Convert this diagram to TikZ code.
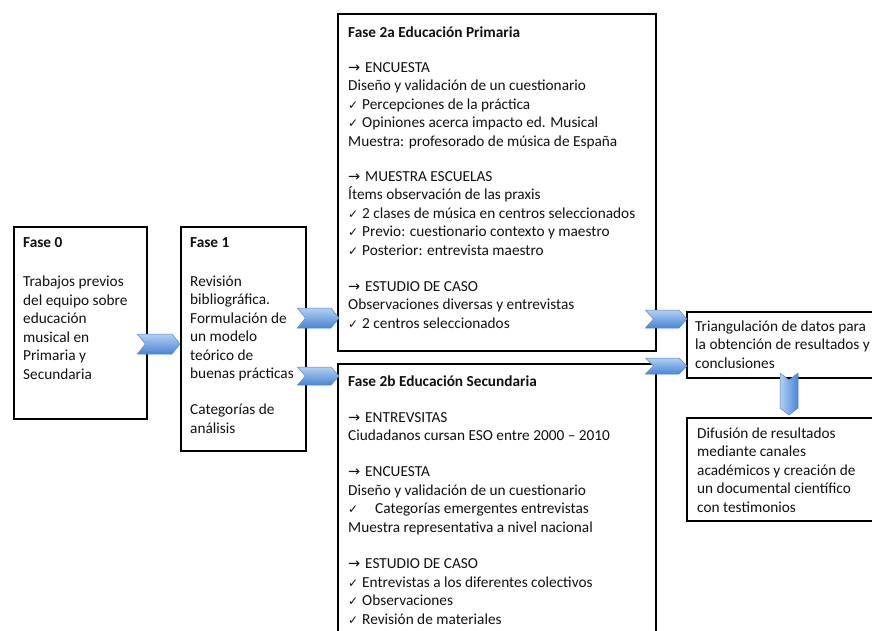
\documentclass[tikz,border=0pt]{standalone}
\usepackage{fontspec}
\setmainfont{Carlito}
\newfontfamily\symfont{DejaVu Sans}
\usetikzlibrary{calc}
\definecolor{arrtop}{RGB}{176,208,246}
\definecolor{arrbot}{RGB}{74,134,212}
\definecolor{arredge}{RGB}{88,134,198}
\definecolor{txtcol}{RGB}{20,16,14}
\newcommand\tick{\makebox[14pt][l]{\fontsize{12}{12}\selectfont\symfont ✓}}
\newcommand\ticklong{\makebox[27pt][l]{\fontsize{12}{12}\selectfont\symfont ✓}}
\newcommand\arr{\makebox[17pt][l]{\fontsize{14.5}{14.5}\selectfont\symfont →}}
\newcommand\hchev[3]{%
  \path[chevh] let \p1=(#1), \p2=(#2) in
   (\x1,\y1+#3) -- (\x2-8pt,\y1+#3) -- (\x2,\y1) -- (\x2-8pt,\y1-#3)
   -- (\x1,\y1-#3) -- (\x1+8pt,\y1) -- cycle;}
\newcommand\vchev[3]{%
  \path[chevv] let \p1=(#1), \p2=(#2) in
   (\x1-#3,\y1) -- (\x1,\y1-7pt) -- (\x1+#3,\y1) -- (\x1+#3,\y2+7pt)
   -- (\x1,\y2) -- (\x1-#3,\y2+7pt) -- cycle;}
\tikzset{
  box/.style={draw=black, line width=2.4pt, anchor=north west, inner sep=0pt, fill=white},
  txt/.style={anchor=north west, inner sep=0pt, align=left, text=txtcol,
    font=\fontsize{15.3}{18.5}\selectfont},
  chevh/.style={top color=arrtop, bottom color=arrbot, draw=arredge, line width=0.5pt},
  chevv/.style={left color=arrtop, right color=arrbot, draw=arredge, line width=0.5pt},
}
\begin{document}
\begin{tikzpicture}[x=1pt,y=-1pt]
\useasboundingbox (0,0) rectangle (872,630);
\fill[white] (0,0) rectangle (872,630);
\clip (0,0) rectangle (872,630);
% boxes
\node[box, minimum width=133pt, minimum height=192pt] (f0) at (13,226) {};
\node[box, minimum width=125pt, minimum height=224pt] (f1) at (180,226) {};
\node[box, minimum width=318pt, minimum height=337pt] (f2a) at (337,13) {};
\node[box, minimum width=318pt, minimum height=340pt] (f2b) at (337,363) {};
\node[box, minimum width=220pt, minimum height=66pt] (tri) at (686,311) {};
\node[box, minimum width=220pt, minimum height=103pt] (dif) at (686,417) {};
% texts
\node[txt] (t0) at (23,234) {\strut\textbf{Fase 0}\\[21pt]
Trabajos previos\\del equipo sobre\\educación\\musical en\\Primaria y\\Secundaria};
\node[txt] (t1) at (190,234) {\strut\textbf{Fase 1}\\[20.5pt]
Revisión\\bibliográfica.\\Formulación de\\un modelo\\teórico de\\buenas prácticas\\[17.5pt]
Categorías de\\análisis};
\node[txt] (t2a) at (348,24) {\strut\textbf{Fase 2a Educación Primaria}\\[16.5pt]
\arr ENCUESTA\\
Diseño y validación de un cuestionario\\
\tick Percepciones de la práctica\\
\tick Opiniones acerca impacto ed. Musical\\
Muestra: profesorado de música de España\\[16.5pt]
\arr MUESTRA ESCUELAS\\
Ítems observación de las praxis\\
\tick 2 clases de música en centros seleccionados\\
\tick Previo: cuestionario contexto y maestro\\
\tick Posterior: entrevista maestro\\[17.5pt]
\arr ESTUDIO DE CASO\\
Observaciones diversas y entrevistas\\
\tick 2 centros seleccionados};
\node[txt] (t2b) at (348,373) {\strut\textbf{Fase 2b Educación Secundaria}\\[17.5pt]
\arr ENTREVSITAS\\
Ciudadanos cursan ESO entre 2000 – 2010\\[17.5pt]
\arr ENCUESTA\\
Diseño y validación de un cuestionario\\
\ticklong Categorías emergentes entrevistas\\
Muestra representativa a nivel nacional\\[18pt]
\arr ESTUDIO DE CASO\\
\tick Entrevistas a los diferentes colectivos\\
\tick Observaciones\\
\tick Revisión de materiales};
\node[txt] (ttri) at (695,318) {\strut Triangulación de datos para\\la obtención de resultados y\\conclusiones};
\node[txt] (tdif) at (697,425) {\strut Difusión de resultados\\mediante canales\\académicos y creación de\\un documental científico\\con testimonios};
% connector end points
\coordinate (a1s) at (f0.east |- 0,344);  \coordinate (a1e) at (f1.west |- 0,344);
\coordinate (a2s) at (f1.east |- 0,318);  \coordinate (a2e) at (f2a.west |- 0,318);
\coordinate (a3s) at (f1.east |- 0,376);  \coordinate (a3e) at (f2b.west |- 0,376);
\coordinate (a4s) at (f2a.east |- 0,319); \coordinate (a4e) at (tri.west |- 0,319);
\coordinate (a5s) at (f2b.east |- 0,366); \coordinate (a5e) at (tri.west |- 0,366);
\coordinate (a6s) at (789,373); \coordinate (a6e) at (789,415);
\hchev{$(a1s)+(-11,0)$}{a1e}{10pt}
\hchev{$(a2s)+(-10,0)$}{$(a2e)+(2,0)$}{10pt}
\hchev{$(a3s)+(-10,0)$}{$(a3e)+(2,0)$}{9pt}
\hchev{$(a4s)+(-12,0)$}{$(a4e)+(1,0)$}{9pt}
\hchev{$(a5s)+(-12,0)$}{$(a5e)+(1,0)$}{8pt}
\vchev{a6s}{a6e}{9pt}
\end{tikzpicture}
\end{document}
